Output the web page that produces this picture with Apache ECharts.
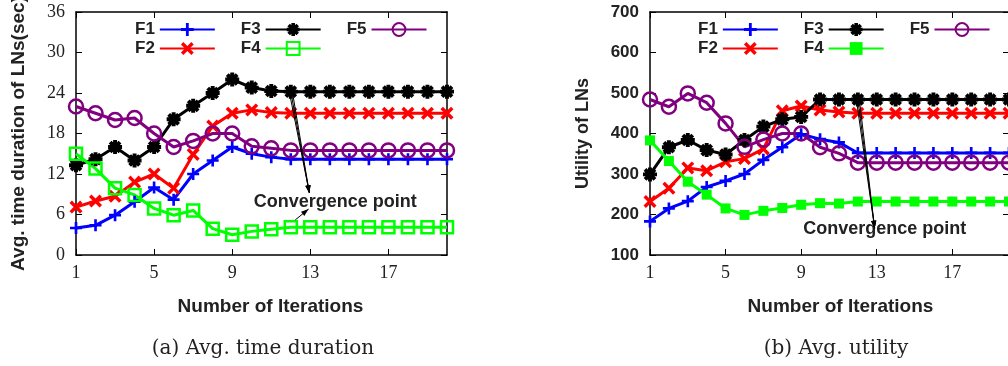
<!DOCTYPE html>
<html><head><meta charset="utf-8">
<script src="https://cdn.jsdelivr.net/npm/echarts@6/dist/echarts.min.js"></script>
<style>html,body{margin:0;padding:0;background:#fff}#c{width:1008px;height:366px}</style>
</head><body><div id="c"></div>
<script>
// ---------- data ----------
const iterations = [1,2,3,4,5,6,7,8,9,10,11,12,13,14,15,16,17,18,19,20];
const xTicks = [1,5,9,13,17];

// (a) Avg. time duration of LNs (sec)
const timeF1 = [4.0,4.4,5.9,7.9,10.0,8.2,12.0,14.0,16.0,15.0,14.5,14.2,14.2,14.2,14.2,14.2,14.2,14.2,14.2,14.2];
const timeF2 = [7.1,8.0,8.7,10.8,12.0,9.9,14.9,19.1,21.0,21.5,21.1,21.0,21.0,21.0,21.0,21.0,21.0,21.0,21.0,21.0];
const timeF3 = [13.3,14.2,16.0,14.0,16.0,20.1,22.1,24.0,26.0,24.8,24.3,24.2,24.2,24.2,24.2,24.2,24.2,24.2,24.2,24.2];
const timeF4 = [15.0,12.8,9.9,8.9,6.9,5.9,6.6,3.9,3.0,3.5,3.8,4.1,4.1,4.1,4.1,4.1,4.1,4.1,4.1,4.1];
const timeF5 = [22.0,21.0,20.0,20.3,18.0,16.0,16.9,18.0,18.0,16.1,15.8,15.5,15.5,15.5,15.5,15.5,15.5,15.5,15.5,15.5];

// (b) Avg. utility of LNs
const utilF1 = [183,215,233,268,283,300,335,366,398,386,378,352,352,352,352,352,352,352,352,352];
const utilF2 = [232,265,315,308,330,338,362,456,468,458,453,450,450,450,450,450,450,450,450,450];
const utilF3 = [299,366,384,359,348,384,417,435,441,484,484,484,484,484,484,484,484,484,484,484];
const utilF4 = [383,332,281,249,215,199,209,216,224,228,227,232,232,232,232,232,232,232,232,232];
const utilF5 = [484,466,499,476,425,367,385,400,400,366,351,328,328,328,328,328,328,328,328,328];

const yTitleA = 'Avg. time duration of LNs(sec)';
const yTitleB = 'Utility of LNs';
const xTitle = 'Number of Iterations';
const captionA = '(a) Avg. time duration';
const captionB = '(b) Avg. utility';
const noteText = 'Convergence point';

// ---------- styling helpers ----------
const SANS = "'Liberation Sans', Arial, Helvetica, sans-serif";
const SERIF = "'Liberation Serif', 'Times New Roman', serif";
const CAPSERIF = "'DejaVu Serif', serif";
const TXT = '#222';
const COLORS = ['#0000ff','#ff0000','#000000','#00ff00','#800080'];

function plusPts(h){ return [[-h,-5],[h,-5],[h,-h],[5,-h],[5,h],[h,h],[h,5],[-h,5],[-h,h],[-5,h],[-5,-h],[-h,-h]]; }
function rot(pts,a){ const c=Math.cos(a), s=Math.sin(a); return pts.map(([x,y])=>[x*c-y*s, x*s+y*c]); }
function toPath(pts){ return 'M' + pts.map(p=>p[0].toFixed(3)+','+p[1].toFixed(3)).join('L') + 'Z'; }
const PLUS = 'path://' + toPath(plusPts(1.1));
const CROSS = 'path://' + toPath(rot(plusPts(1.15), Math.PI/4));
const STAR = 'path://' + toPath(plusPts(1.4)) + toPath(rot(plusPts(1.4), Math.PI/4));

function mk(name, vals, xi, yi, k, symbol, size, hollow){
  const color = COLORS[k];
  return {
    type:'line', name, xAxisIndex:xi, yAxisIndex:yi,
    data: iterations.map((x,i)=>[x, vals[i]]),
    symbol, symbolSize:size, showAllSymbol:true, z: 2,
    lineStyle:{color, width:3},
    itemStyle: hollow ? {color:'rgba(0,0,0,0)', borderColor:color, borderWidth:2.5}
                      : {color, borderWidth:0},
    emphasis:{disabled:true}, silent:true
  };
}

function xAx(gi, pos, withLabel){
  return {
    type:'value', gridIndex:gi, position:pos, min:1, max:20,
    axisLine:{show:true, onZero:false, lineStyle:{color:'#000', width:1.5}},
    axisTick:{show:true, inside:true, length:6, customValues:xTicks, lineStyle:{color:'#000', width:1}},
    axisLabel:{show:withLabel, customValues:xTicks, margin:9, fontFamily:SERIF, fontSize:18, color:TXT},
    splitLine:{show:false},
    name: withLabel ? xTitle : '', nameLocation:'middle', nameGap:42,
    nameTextStyle:{fontFamily:SANS, fontWeight:'bold', fontSize:19, color:TXT, padding:[0,0,0, gi===0?18:22]}
  };
}
function yAx(gi, pos, min, max, step, withLabel, labelStyle, name, gap, nameSize){
  return {
    type:'value', gridIndex:gi, position:pos, min, max, interval:step,
    axisLine:{show:true, onZero:false, lineStyle:{color:'#000', width:1.5}},
    axisTick:{show:true, inside:true, length:6, lineStyle:{color:'#000', width:1}},
    axisLabel:Object.assign({show:withLabel, margin:11, color:TXT}, labelStyle),
    splitLine:{show:false},
    name: name || '', nameLocation:'middle', nameGap:gap || 0,
    nameTextStyle:{fontFamily:SANS, fontWeight:'bold', fontSize:nameSize || 18, color:TXT}
  };
}
function legend(data, left, top, fmt){
  return {
    data, left, top, orient:'horizontal', align:'right', padding:0,
    itemWidth:55, itemHeight:16, itemGap:25, selectedMode:false,
    textStyle:{fontFamily:SANS, fontWeight:'bold', fontSize:17, color:TXT},
    formatter: fmt || (n=>n)
  };
}

// annotation (data-space) positions
const arrowsA = [[[11.92,24.2],[12.95,9.2]],[[12.0,24.2],[12.95,9.2]],[[12.08,24.2],[12.95,9.2]],[[12.23,5.2],[12.91,6.8]]];
const noteA = [14.28, 7.85];
const arrowsB = [[[11.92,484],[12.89,166]],[[12.0,484],[12.89,166]],[[12.08,484],[12.89,166]]];
const noteB = [13.42, 164];

function note(coord){
  return {
    markPoint:{silent:true, symbol:'rect', symbolSize:1, itemStyle:{color:'rgba(0,0,0,0)'},
      label:{show:true, position:'inside', formatter:noteText, fontFamily:SANS, fontWeight:'bold', fontSize:18, color:TXT},
      data:[{coord}]}
  };
}

const sA = [
  mk('F1', timeF1, 0, 0, 0, PLUS, 12, false),
  mk('F2', timeF2, 0, 0, 1, CROSS, 13, false),
  Object.assign(mk('F3', timeF3, 0, 0, 2, STAR, 14, false), note(noteA)),
  mk('F4', timeF4, 0, 0, 3, 'rect', 12, true),
  mk('F5', timeF5, 0, 0, 4, 'circle', 14, true)
];
const sB = [
  mk('F1b', utilF1, 2, 2, 0, PLUS, 12, false),
  mk('F2b', utilF2, 2, 2, 1, CROSS, 13, false),
  Object.assign(mk('F3b', utilF3, 2, 2, 2, STAR, 14, false), note(noteB)),
  mk('F4b', utilF4, 2, 2, 3, 'rect', 10, false),
  mk('F5b', utilF5, 2, 2, 4, 'circle', 14, true)
];

const captions = [
  {type:'text', x:263, y:349, silent:true, style:{text:captionA, fontFamily:CAPSERIF, fontSize:20, fill:TXT, align:'center', verticalAlign:'middle'}},
  {type:'text', x:836, y:349, silent:true, style:{text:captionB, fontFamily:CAPSERIF, fontSize:20, fill:TXT, align:'center', verticalAlign:'middle'}}
];

const chart = echarts.init(document.getElementById('c'), null, {renderer:'canvas'});
chart.setOption({
  animation:false,
  backgroundColor:'#fff',
  grid:[{left:76, top:12, width:371, height:243, outerBoundsMode:'none', containLabel:false},
        {left:650, top:12, width:359, height:243, outerBoundsMode:'none', containLabel:false}],
  xAxis:[xAx(0,'bottom',true), xAx(0,'top',false), xAx(1,'bottom',true), xAx(1,'top',false)],
  yAxis:[
    yAx(0,'left',0,36,6,true,{fontFamily:SERIF, fontSize:18}, yTitleA, 48, 19),
    yAx(0,'right',0,36,6,false,{}),
    yAx(1,'left',100,700,100,true,{fontFamily:SANS, fontWeight:'bold', fontSize:17}, yTitleB, 58, 18),
    yAx(1,'right',100,700,100,false,{})
  ],
  legend:[
    legend(['F1','F3','F5'], 135, 21),
    legend(['F2','F4'], 135, 40),
    legend(['F1b','F3b','F5b'], 698, 21, n=>n.replace('b','')),
    legend(['F2b','F4b'], 698, 40, n=>n.replace('b',''))
  ],
  series: sA.concat(sB),
  graphic: captions
});

// arrows drawn through the chart's own coordinate conversion
function arrowEls(gridIndex, arrows){
  const out = [];
  arrows.forEach(([a,b])=>{
    const p = chart.convertToPixel({gridIndex}, a);
    const q = chart.convertToPixel({gridIndex}, b);
    out.push({type:'line', silent:true, z:20, shape:{x1:p[0],y1:p[1],x2:q[0],y2:q[1]}, style:{stroke:'#000', lineWidth:1}});
    const ang = Math.atan2(q[1]-p[1], q[0]-p[0]), L = 8, w = 0.33;
    const h1 = [q[0]-L*Math.cos(ang-w), q[1]-L*Math.sin(ang-w)];
    const h2 = [q[0]-L*Math.cos(ang+w), q[1]-L*Math.sin(ang+w)];
    out.push({type:'polygon', silent:true, z:20, shape:{points:[q,h1,h2]}, style:{fill:'#000'}});
  });
  return out;
}
chart.setOption({graphic: captions.concat(arrowEls(0, arrowsA), arrowEls(1, arrowsB))});
</script></body></html>
